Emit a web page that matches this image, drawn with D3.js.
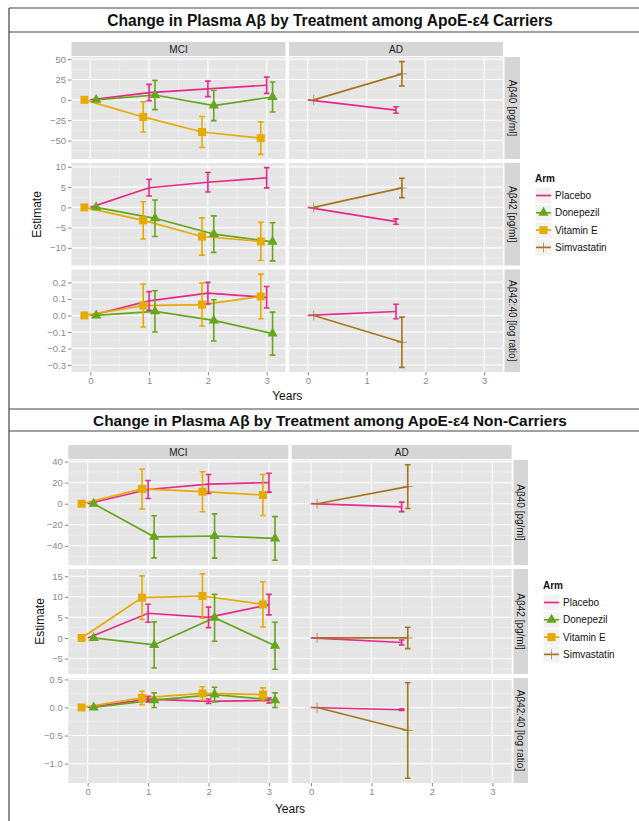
<!DOCTYPE html>
<html><head><meta charset="utf-8">
<script src="https://cdn.jsdelivr.net/npm/d3@7"></script>
<style>
body{margin:0;background:#fff}
svg{display:block}
text{font-family:"Liberation Sans", Arial, sans-serif}
</style>
</head><body>
<svg id="c" width="639" height="821"></svg>
<script>
// ---------------- data ----------------
const stages = ["MCI", "AD"];
const measures = ["Aβ40 [pg/ml]", "Aβ42 [pg/ml]", "Aβ42:40 [log ratio]"];
const arms = ["Placebo", "Donepezil", "Vitamin E", "Simvastatin"];
const mciYears = [0, 1, 2, 3];
const adYears = [0, 1.5];
const yearTicks = [0, 1, 2, 3];
const titles = ["Change in Plasma Aβ by Treatment among ApoE-ε4 Carriers",
                "Change in Plasma Aβ by Treatment among ApoE-ε4 Non-Carriers"];

// tick labels (per measure row)
const carrierTicks = [[-50, -25, 0, 25, 50], [-10, -5, 0, 5, 10], [-0.3, -0.2, -0.1, 0, 0.1, 0.2]];
const nonCarrierTicks = [[-40, -20, 0, 20, 40], [-5, 0, 5, 10, 15], [-1.0, -0.5, 0, 0.5]];

// ApoE-e4 carriers — MCI (years 0..3), rows = measures
const carMciPlaceboEst   = [[0, 9, 13.5, 18], [0, 4.85, 6.2, 7.3], [0, 0.088, 0.135, 0.11]];
const carMciPlaceboErr   = [[0, 10, 9.5, 10], [0, 2.05, 2.4, 2.5], [0, 0.056, 0.065, 0.065]];
const carMciDonepezilEst = [[0, 6, -7, 3.5], [0, -2.7, -6.6, -8.5], [0, 0.025, -0.03, -0.11]];
const carMciDonepezilErr = [[0, 18, 18.5, 18.5], [0, 4.5, 4.5, 4.7], [0, 0.125, 0.125, 0.13]];
const carMciVitEEst      = [[0, -21, -39.5, -47], [0, -3.2, -7.2, -8.4], [0, 0.06, 0.066, 0.115]];
const carMciVitEErr      = [[0, 18.5, 19, 20], [0, 4.6, 4.6, 4.7], [0, 0.13, 0.13, 0.135]];
// carriers — AD (years 0, 1.5)
const carAdPlaceboEst = [[0, -12.5], [0, -3.5], [0, 0.024]];
const carAdPlaceboErr = [[0, 4], [0, 0.65], [0, 0.044]];
const carAdSimvaEst   = [[0, 32], [0, 4.8], [0, -0.162]];
const carAdSimvaErr   = [[0, 15], [0, 2.4], [0, 0.152]];

// ApoE-e4 non-carriers — MCI
const ncMciPlaceboEst   = [[0, 13.5, 18.7, 20], [0, 6, 5, 8.1], [0, 0.15, 0.11, 0.125]];
const ncMciPlaceboErr   = [[0, 8.5, 9, 9], [0, 2.2, 2.5, 2.5], [0, 0.05, 0.04, 0.045]];
const ncMciDonepezilEst = [[0, -31.5, -30.7, -33], [0, -1.7, 4.9, -1.9], [0, 0.13, 0.23, 0.13]];
const ncMciDonepezilErr = [[0, 20, 21, 20.7], [0, 5.6, 5.7, 5.7], [0, 0.13, 0.13, 0.13]];
const ncMciVitEEst      = [[0, 14, 11.4, 8.3], [0, 9.8, 10.2, 8.15], [0, 0.17, 0.25, 0.23]];
const ncMciVitEErr      = [[0, 19, 19, 19.5], [0, 5.3, 5.4, 5.5], [0, 0.12, 0.12, 0.12]];
// non-carriers — AD
const ncAdPlaceboEst = [[0, -3], [0, -1.1], [0, -0.04]];
const ncAdPlaceboErr = [[0, 4.5], [0, 0.6], [0, 0.015]];
const ncAdSimvaEst   = [[0, 16.25], [0, 0], [0, -0.41]];
const ncAdSimvaErr   = [[0, 20.75], [0, 2.6], [0, 0.85]];

// ---------------- styles ----------------
const armColor = {"Placebo": "#e7298a", "Donepezil": "#66a61e", "Vitamin E": "#e6ab02", "Simvastatin": "#a6761d"};
const armShape = {"Placebo": "none", "Donepezil": "triangle", "Vitamin E": "square", "Simvastatin": "plus"};
const dodge = {"Placebo": 0, "Donepezil": 0.1, "Vitamin E": -0.1, "Simvastatin": 0.1};

const svg = d3.select("#c");

function buildSeries(mci, ad) {
  // returns [stage][row] -> array of {arm, pts}
  const out = [[], []];
  for (let r = 0; r < 3; r++) {
    out[0].push(mci.map(([arm, est, err]) => ({
      arm, pts: mciYears.map((t, i) => ({x: t + dodge[arm], y: est[r][i], e: err[r][i]}))
    })));
    out[1].push(ad.map(([arm, est, err]) => ({
      arm, pts: adYears.map((t, i) => ({x: t + (arm === "Placebo" ? 0 : dodge[arm]), y: est[r][i], e: err[r][i]}))
    })));
  }
  return out;
}

function minorBreaks(ticks, dom) {
  const step = ticks[1] - ticks[0];
  const res = [];
  for (let v = ticks[0] - step / 2; v <= ticks[ticks.length - 1] + step / 2 + 1e-9; v += step) {
    if (v >= dom[0] && v <= dom[1]) res.push(v);
  }
  return res;
}

function drawMarker(g, shape, cx, cy, color) {
  if (shape === "triangle") {
    g.append("path").attr("d", d3.symbol().type(d3.symbolTriangle).size(46)())
      .attr("transform", `translate(${cx},${cy})`).attr("fill", color);
  } else if (shape === "square") {
    g.append("path").attr("d", d3.symbol().type(d3.symbolSquare).size(64)())
      .attr("transform", `translate(${cx},${cy})`).attr("fill", color);
  } else if (shape === "plus") {
    g.append("path").attr("d", `M${cx - 5},${cy}H${cx + 5}M${cx},${cy - 5}V${cy + 5}`)
      .attr("stroke", color).attr("stroke-width", 1).attr("opacity", 0.7).attr("fill", "none");
  }
}

function drawChart(cfg) {
  const g = svg.append("g");
  const xDomain = [-0.32, 3.32];
  const xs = cfg.cols.map(c => d3.scaleLinear().domain(xDomain).range(c));

  // title
  const t = g.append("text").attr("x", cfg.titleX).attr("y", cfg.titleY)
    .attr("text-anchor", "middle").attr("dominant-baseline", "central")
    .attr("font-weight", "bold").attr("font-size", 16).attr("fill", "#111").text(cfg.title);
  const len = t.node().getComputedTextLength();
  t.attr("font-size", 16 * cfg.titleW / len);

  // top strips
  stages.forEach((s, si) => {
    const [x0, x1] = cfg.cols[si];
    g.append("rect").attr("x", x0).attr("y", cfg.stripTop).attr("width", x1 - x0).attr("height", cfg.stripH).attr("fill", "#d6d6d6");
    g.append("text").attr("x", (x0 + x1) / 2).attr("y", cfg.stripTop + cfg.stripH / 2)
      .attr("text-anchor", "middle").attr("dominant-baseline", "central")
      .attr("font-size", 10).attr("fill", "#1a1a1a").text(s);
  });

  for (let r = 0; r < 3; r++) {
    const [y0, y1] = cfg.rows[r];
    let lo = Infinity, hi = -Infinity;
    for (let si = 0; si < 2; si++) cfg.series[si][r].forEach(sr => sr.pts.forEach(p => {
      lo = Math.min(lo, p.y - p.e); hi = Math.max(hi, p.y + p.e);
    }));
    const pad = (hi - lo) * 0.05;
    const y = d3.scaleLinear().domain([lo - pad, hi + pad]).range([y1, y0]);
    const ticks = cfg.ticks[r];
    const fmt = (ticks[1] - ticks[0]) < 1 ? d3.format(".1f") : d3.format("d");

    // right strip
    g.append("rect").attr("x", cfg.rstrip[0]).attr("y", y0).attr("width", cfg.rstrip[1] - cfg.rstrip[0]).attr("height", y1 - y0).attr("fill", "#d6d6d6");
    const cxs = (cfg.rstrip[0] + cfg.rstrip[1]) / 2, cys = (y0 + y1) / 2;
    g.append("text").attr("transform", `translate(${cxs},${cys}) rotate(90)`)
      .attr("text-anchor", "middle").attr("dominant-baseline", "central")
      .attr("font-size", 10).attr("fill", "#1a1a1a").text(measures[r]);

    stages.forEach((s, si) => {
      const x = xs[si];
      const [x0, x1] = cfg.cols[si];
      const pg = g.append("g");
      pg.append("rect").attr("x", x0).attr("y", y0).attr("width", x1 - x0).attr("height", y1 - y0).attr("fill", "#e5e5e5");
      // minor grid
      minorBreaks(ticks, y.domain()).forEach(v => pg.append("line").attr("x1", x0).attr("x2", x1)
        .attr("y1", y(v)).attr("y2", y(v)).attr("stroke", "#f2f2f2").attr("stroke-width", 0.6));
      minorBreaks(yearTicks, xDomain).forEach(v => pg.append("line").attr("y1", y0).attr("y2", y1)
        .attr("x1", x(v)).attr("x2", x(v)).attr("stroke", "#f2f2f2").attr("stroke-width", 0.6));
      // major grid
      ticks.forEach(v => pg.append("line").attr("x1", x0).attr("x2", x1)
        .attr("y1", y(v)).attr("y2", y(v)).attr("stroke", "#fff").attr("stroke-width", 1.1));
      yearTicks.forEach(v => pg.append("line").attr("y1", y0).attr("y2", y1)
        .attr("x1", x(v)).attr("x2", x(v)).attr("stroke", "#fff").attr("stroke-width", 1.1));

      const ser = cfg.series[si][r];
      // lines
      ser.forEach(sr => pg.append("path").datum(sr.pts)
        .attr("d", d3.line().x(p => x(p.x)).y(p => y(p.y)))
        .attr("fill", "none").attr("stroke", armColor[sr.arm]).attr("stroke-width", 1.7));
      // error bars
      ser.forEach(sr => sr.pts.filter(p => p.e > 0).forEach(p => {
        const cx = x(p.x), ya = y(p.y + p.e), yb = y(p.y - p.e), w = 2.8;
        pg.append("path").attr("d", `M${cx - w},${ya}H${cx + w}M${cx},${ya}V${yb}M${cx - w},${yb}H${cx + w}`)
          .attr("fill", "none").attr("stroke", armColor[sr.arm]).attr("stroke-width", 1.6);
      }));
      // markers
      ser.forEach(sr => sr.pts.forEach(p => drawMarker(pg, armShape[sr.arm], x(p.x), y(p.y), armColor[sr.arm])));
    });

    // y axis
    const ax = g.append("g").attr("transform", `translate(${cfg.cols[0][0]},0)`)
      .call(d3.axisLeft(y).tickValues(ticks).tickSize(3.5).tickPadding(2)
        .tickFormat(v => fmt(v).replace("-", "\u2212")));
    ax.select(".domain").remove();
    ax.selectAll("line").attr("stroke", "#8a8a8a");
    ax.selectAll("text").attr("fill", "#8a8a8a").attr("font-size", 9.5).attr("font-family", "Liberation Sans, Arial, sans-serif");
  }

  // x axes
  stages.forEach((s, si) => {
    const yb = cfg.rows[2][1];
    const ax = g.append("g").attr("transform", `translate(0,${yb})`)
      .call(d3.axisBottom(xs[si]).tickValues(yearTicks).tickSize(3.5).tickPadding(2).tickFormat(d3.format("d")));
    ax.select(".domain").remove();
    ax.selectAll("line").attr("stroke", "#8a8a8a");
    ax.selectAll("text").attr("fill", "#8a8a8a").attr("font-size", 9.5).attr("font-family", "Liberation Sans, Arial, sans-serif");
  });

  // axis titles
  g.append("text").attr("x", (cfg.cols[0][0] + cfg.cols[1][1]) / 2).attr("y", cfg.xTitleY)
    .attr("text-anchor", "middle").attr("dominant-baseline", "central").attr("font-size", 12).attr("fill", "#111").text("Years");
  g.append("text").attr("transform", `translate(${cfg.yTitleX},${(cfg.rows[0][0] + cfg.rows[2][1]) / 2}) rotate(-90)`)
    .attr("text-anchor", "middle").attr("dominant-baseline", "central").attr("font-size", 12).attr("fill", "#111").text("Estimate");

  // legend
  const lg = g.append("g").attr("transform", `translate(${cfg.legend[0]},${cfg.legend[1]})`);
  lg.append("text").attr("x", 0).attr("y", 0).attr("dominant-baseline", "central")
    .attr("font-weight", "bold").attr("font-size", 10).attr("fill", "#111").text("Arm");
  arms.forEach((a, i) => {
    const ky = 9 + i * 17.3;
    lg.append("rect").attr("x", 0).attr("y", ky).attr("width", 17).attr("height", 17)
      .attr("fill", "#f2f2f2").attr("stroke", "#fff").attr("stroke-width", 1);
    lg.append("line").attr("x1", 1).attr("x2", 16).attr("y1", ky + 8.5).attr("y2", ky + 8.5)
      .attr("stroke", armColor[a]).attr("stroke-width", 1.7);
    drawMarker(lg, armShape[a], 8.5, ky + 8.5, armColor[a]);
    lg.append("text").attr("x", 20).attr("y", ky + 8.5).attr("dominant-baseline", "central")
      .attr("font-size", 10).attr("fill", "#111").text(a);
  });
}

// frames
const frame = svg.append("g").attr("stroke", "#444").attr("stroke-width", 1.2).attr("fill", "none");
[8, 32, 409, 431].forEach(yv => frame.append("line").attr("x1", 9).attr("x2", 639).attr("y1", yv).attr("y2", yv));
frame.append("line").attr("x1", 9).attr("x2", 9).attr("y1", 8).attr("y2", 821);

drawChart({
  title: titles[0], titleX: 330, titleY: 20, titleW: 446,
  stripTop: 42, stripH: 14,
  rows: [[57, 159], [163, 265.5], [269.5, 372]],
  cols: [[71.5, 285.5], [289, 503]],
  rstrip: [504.5, 520],
  ticks: carrierTicks,
  series: buildSeries(
    [["Placebo", carMciPlaceboEst, carMciPlaceboErr], ["Donepezil", carMciDonepezilEst, carMciDonepezilErr], ["Vitamin E", carMciVitEEst, carMciVitEErr]],
    [["Placebo", carAdPlaceboEst, carAdPlaceboErr], ["Simvastatin", carAdSimvaEst, carAdSimvaErr]]),
  xTitleY: 396, yTitleX: 37, legend: [535, 178]
});

drawChart({
  title: titles[1], titleX: 330, titleY: 420.5, titleW: 474,
  stripTop: 445, stripH: 14,
  rows: [[460, 565], [569, 674], [678, 783]],
  cols: [[68.3, 288.3], [291.7, 511.7]],
  rstrip: [513.5, 528],
  ticks: nonCarrierTicks,
  series: buildSeries(
    [["Placebo", ncMciPlaceboEst, ncMciPlaceboErr], ["Donepezil", ncMciDonepezilEst, ncMciDonepezilErr], ["Vitamin E", ncMciVitEEst, ncMciVitEErr]],
    [["Placebo", ncAdPlaceboEst, ncAdPlaceboErr], ["Simvastatin", ncAdSimvaEst, ncAdSimvaErr]]),
  xTitleY: 809, yTitleX: 40, legend: [543, 585]
});
</script>
</body></html>
